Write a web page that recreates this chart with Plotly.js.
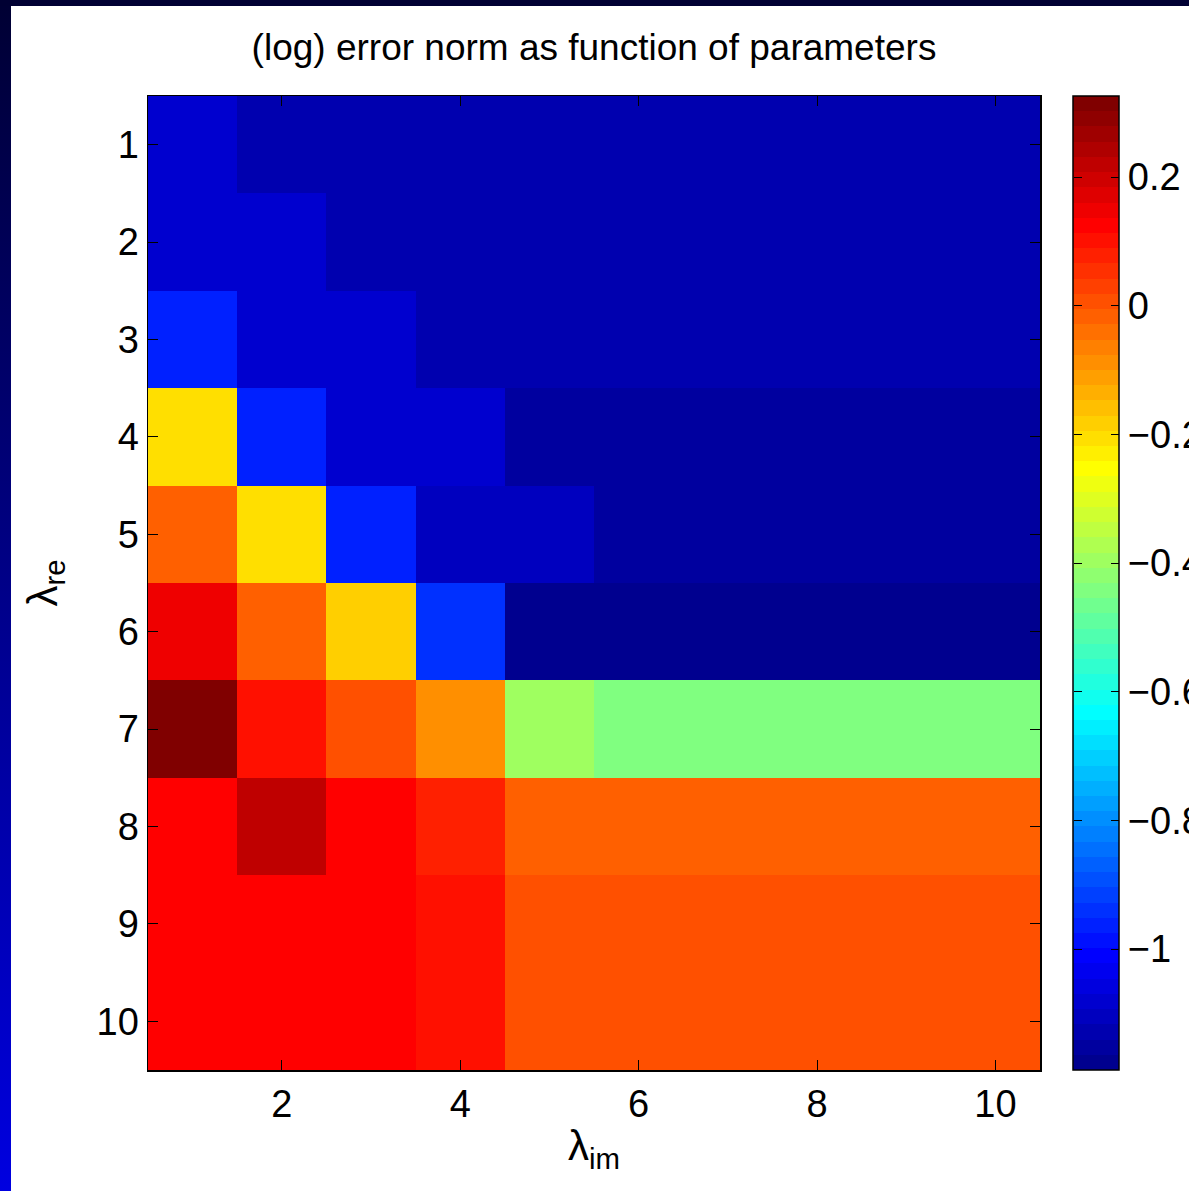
<!DOCTYPE html>
<html>
<head>
<meta charset="utf-8">
<script src="https://cdn.plot.ly/plotly-3.0.1.min.js"></script>
<style>
  html, body { margin: 0; padding: 0; }
  body {
    width: 1189px; height: 1191px; overflow: hidden;
    background: linear-gradient(to bottom, #000033 0%, #0000e0 100%);
    position: relative;
  }
  #top { position: absolute; left: 0; top: 0; width: 1189px; height: 6px; background: #000033; }
  #chart { position: absolute; left: 11px; top: 6px; width: 1178px; height: 1185px; background: #ffffff; }
</style>
</head>
<body>
<div id="top"></div>
<div id="chart"></div>
<script>
// ---- data ----
const lambdaIm = [1, 2, 3, 4, 5, 6, 7, 8, 9, 10];
const lambdaRe = [1, 2, 3, 4, 5, 6, 7, 8, 9, 10];
const re1  = [-1.082, -1.129, -1.129, -1.129, -1.129, -1.129, -1.129, -1.129, -1.129, -1.129];
const re2  = [-1.082, -1.082, -1.129, -1.129, -1.129, -1.129, -1.129, -1.129, -1.129, -1.129];
const re3  = [-0.963, -1.082, -1.082, -1.129, -1.129, -1.129, -1.129, -1.129, -1.129, -1.129];
const re4  = [-0.206, -0.963, -1.082, -1.082, -1.153, -1.153, -1.153, -1.153, -1.153, -1.153];
const re5  = [-0.017, -0.206, -0.963, -1.105, -1.105, -1.153, -1.153, -1.153, -1.153, -1.153];
const re6  = [ 0.149, -0.017, -0.183, -0.940, -1.188, -1.188, -1.188, -1.188, -1.188, -1.188];
const re7  = [ 0.326,  0.101,  0.007, -0.088, -0.396, -0.443, -0.443, -0.443, -0.443, -0.443];
const re8  = [ 0.125,  0.220,  0.125,  0.078, -0.017, -0.017, -0.017, -0.017, -0.017, -0.017];
const re9  = [ 0.125,  0.125,  0.125,  0.101,  0.007,  0.007,  0.007,  0.007,  0.007,  0.007];
const re10 = [ 0.125,  0.125,  0.125,  0.101,  0.007,  0.007,  0.007,  0.007,  0.007,  0.007];
const errNorm = [re1, re2, re3, re4, re5, re6, re7, re8, re9, re10];
const colorTicks = [0.2, 0, -0.2, -0.4, -0.6, -0.8, -1];

// ---- MATLAB jet(64) as a stepped colorscale ----
function jetScale(m) {
  const n = Math.ceil(m / 4);
  const u = [];
  for (let j = 1; j <= n; j++) u.push(j / n);
  for (let j = 1; j < n; j++) u.push(1);
  for (let j = n; j >= 1; j--) u.push(j / n);
  const off = Math.ceil(n / 2) - (m % 4 === 1 ? 1 : 0);
  const R = new Array(m).fill(0), G = new Array(m).fill(0), B = new Array(m).fill(0);
  for (let j = 0; j < u.length; j++) {
    const g = off + j + 1, r = g + n, b = g - n;
    if (g >= 1 && g <= m) G[g - 1] = u[j];
    if (r >= 1 && r <= m) R[r - 1] = u[j];
    if (b >= 1 && b <= m) B[b - 1] = u[j];
  }
  const scale = [];
  for (let k = 0; k < m; k++) {
    const c = 'rgb(' + Math.round(R[k] * 255) + ',' + Math.round(G[k] * 255) + ',' + Math.round(B[k] * 255) + ')';
    scale.push([k / m, c]);
    scale.push([(k + 1) / m, c]);
  }
  return scale;
}

const FONT = '"Liberation Sans", Arial, Helvetica, sans-serif';
const TICK = 38;
const zmin = -1.188, zmax = 0.326;
const cbX = 925 / 892;

const main = {
  type: 'heatmap',
  x: lambdaIm, y: lambdaRe, z: errNorm,
  zmin: zmin, zmax: zmax,
  colorscale: jetScale(64),
  zsmooth: false,
  hoverinfo: 'skip',
  colorbar: {
    x: cbX, xanchor: 'left', xpad: 0,
    y: 0.5, yanchor: 'middle', len: 1, lenmode: 'fraction', ypad: 0,
    thickness: 46, thicknessmode: 'pixels',
    outlinecolor: '#000', outlinewidth: 1.5,
    ticks: 'inside', ticklen: 8, tickwidth: 1, tickcolor: '#000',
    tickvals: colorTicks,
    tickfont: { family: FONT, size: TICK, color: '#000' }
  }
};
// second, transparent copy only to draw the colorbar's left-edge ticks
const tickHelper = {
  type: 'heatmap',
  x: lambdaIm, y: lambdaRe, z: errNorm,
  zmin: zmin, zmax: zmax,
  colorscale: [[0, 'rgba(0,0,0,0)'], [1, 'rgba(0,0,0,0)']],
  hoverinfo: 'skip',
  colorbar: {
    x: cbX, xanchor: 'left', xpad: 0,
    y: 0.5, yanchor: 'middle', len: 1, lenmode: 'fraction', ypad: 0,
    thickness: 1, thicknessmode: 'pixels',
    outlinewidth: 0,
    ticks: 'outside', ticklen: 8, tickwidth: 1, tickcolor: '#000',
    tickvals: colorTicks, showticklabels: false
  }
};

const layout = {
  width: 1178, height: 1185,
  margin: { l: 137, r: 149, t: 90, b: 121, pad: 0, autoexpand: false },
  paper_bgcolor: '#ffffff', plot_bgcolor: '#ffffff',
  font: { family: FONT, size: TICK, color: '#000' },
  title: {
    text: '(log) error norm as function of parameters',
    font: { family: FONT, size: 37, color: '#000' },
    x: 0.5, xref: 'paper', xanchor: 'center',
    y: 1, yref: 'paper', yanchor: 'bottom', pad: { b: 36 }
  },
  xaxis: {
    range: [0.5, 10.5], tickvals: [2, 4, 6, 8, 10],
    ticks: 'inside', ticklen: 10, tickwidth: 1, tickcolor: '#000',
    showline: true, linecolor: '#000', linewidth: 1.5, mirror: 'ticks',
    showgrid: false, zeroline: false,
    tickfont: { family: FONT, size: TICK, color: '#000' },
    title: { text: 'λ<sub>im</sub>', font: { family: FONT, size: 42, color: '#000' }, standoff: 6 }
  },
  yaxis: {
    range: [10.5, 0.5], tickvals: lambdaRe,
    ticks: 'inside', ticklen: 10, tickwidth: 1, tickcolor: '#000',
    showline: true, linecolor: '#000', linewidth: 1.5, mirror: 'ticks',
    showgrid: false, zeroline: false,
    tickfont: { family: FONT, size: TICK, color: '#000' },
    title: { text: 'λ<sub>re</sub>', font: { family: FONT, size: 42, color: '#000' }, standoff: 26 }
  }
};

Plotly.newPlot('chart', [main, tickHelper], layout, { displayModeBar: false, staticPlot: true });
</script>
</body>
</html>
